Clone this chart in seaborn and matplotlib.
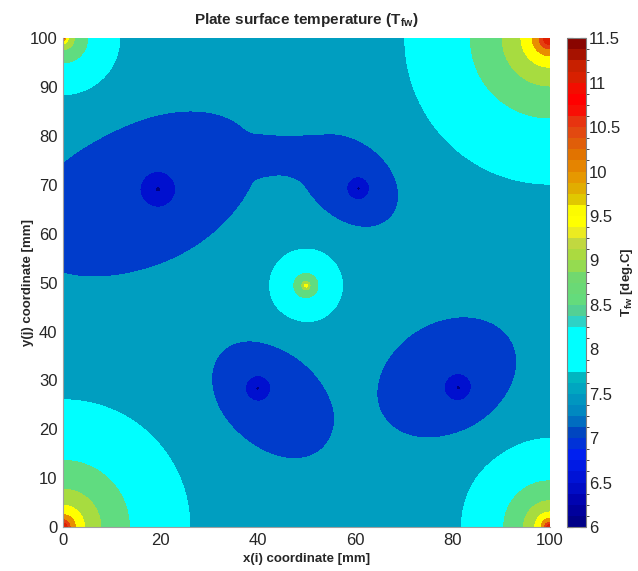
import numpy as np
import matplotlib
matplotlib.use("Agg")
import matplotlib.pyplot as plt
from matplotlib.colors import LinearSegmentedColormap, ListedColormap, BoundaryNorm
from matplotlib.cm import ScalarMappable
import seaborn as sns

t_base = 7.75

# hot spots (corners + centre): position [mm], strength, radius [mm]
hot_x = [0, 100, 0, 100, 49.9]
hot_y = [0, 0, 100, 100, 49.4]
hot_q = [0.90, 0.90, 0.65, 1.00, 0.47]
hot_r = [31.0, 21.4, 15.9, 34.0, 11.7]

# cold spot cores
spot_x = [19.5, 60.7, 40.0, 81.2]
spot_y = [69.1, 69.3, 28.4, 28.5]
spot_q = [-0.27, -0.27, -0.27, -0.27]
spot_r = [10.0, 7.5, 8.0, 8.5]

# cooled zones around the cold spots (ellipses of the 7.5 deg.C contour)
zone_x = [16.0, 59.0, 43.0, 79.0, 45.0]
zone_y = [68.0, 71.0, 26.0, 30.5, 76.0]
zone_a = [26.5, 12.0, 15.0, 16.0, 7.0]
zone_b = [15.0, 8.5, 10.5, 12.0, 4.5]
zone_ang = [25.0, -40.0, -42.0, 30.0, 0.0]
zone_dt = [0.5, 0.5, 0.5, 0.5, 0.2]

levels = np.arange(6.0, 11.51, 0.5)
x_ticks = list(range(0, 101, 20))
y_ticks = list(range(0, 101, 10))

# colour scale (value, colour)
cb_vals = [6.0, 6.25, 6.5, 6.8, 7.05, 7.25, 7.5, 7.7, 7.8, 8.2, 8.35, 8.5, 8.8,
           9.0, 9.15, 9.25, 9.4, 9.55, 9.65, 9.8, 10.0, 10.2, 10.4, 10.6,
           10.75, 10.9, 11.0, 11.2, 11.35, 11.5]
cb_cols = ["#000080", "#0000a8", "#0010d0", "#0020f0", "#0044c0", "#0080c0",
           "#00a0c0", "#00b8c0", "#00ffff", "#00ffff", "#40c0b0", "#60dc80",
           "#70d870", "#a8dc40", "#b0d840", "#d8d840", "#ffff00", "#ffff00",
           "#e0d000", "#e0b000", "#e89000", "#e07000", "#e05010", "#e83010",
           "#ff0000", "#ff0000", "#e02000", "#c82000", "#a01000", "#800000"]

vmin, vmax = cb_vals[0], cb_vals[-1]
scale = LinearSegmentedColormap.from_list(
    "plate", [((v - vmin) / (vmax - vmin), c) for v, c in zip(cb_vals, cb_cols)])

# temperature field
xg = np.linspace(0, 100, 401)
X, Y = np.meshgrid(xg, xg)
T = np.full_like(X, t_base)
for sx, sy, q, R in zip(hot_x + spot_x, hot_y + spot_y, hot_q + spot_q, hot_r + spot_r):
    r = np.hypot(X - sx, Y - sy) + 1e-3
    T += q * np.log1p((R / r) ** 4) / 4
for cx, cy, a, b, ang, dt in zip(zone_x, zone_y, zone_a, zone_b, zone_ang, zone_dt):
    c, s = np.cos(np.radians(ang)), np.sin(np.radians(ang))
    u = ((X - cx) * c + (Y - cy) * s) / a
    v = (-(X - cx) * s + (Y - cy) * c) / b
    T -= dt * np.exp(-np.log(2) * (u ** 2 + v ** 2) ** 2)
T = np.clip(T, 6.001, 11.499)

sns.set_style("white")
plt.rcParams["font.family"] = ["Liberation Sans", "DejaVu Sans"]
plt.rcParams["mathtext.fontset"] = "custom"
plt.rcParams["mathtext.rm"] = "Liberation Sans"
plt.rcParams["mathtext.bf"] = "Liberation Sans:bold"

fig = plt.figure(figsize=(6.38, 5.71), dpi=100)
ax = fig.add_axes([0.0987, 0.077, 0.763, 0.856])
band_cols = [scale((lv - vmin) / (vmax - vmin)) for lv in levels[:-1]]
ax.contourf(X, Y, T, levels=levels, colors=band_cols)
ax.set_xlim(0, 100)
ax.set_ylim(0, 100)
ax.set_xticks(x_ticks)
ax.set_yticks(y_ticks)
ax.tick_params(labelsize=12, direction="out", length=3, color="#909090", pad=1)
for s in ["left", "bottom"]:
    ax.spines[s].set_color("#a0a0a0")
for s in ["top", "right"]:
    ax.spines[s].set_visible(False)
ax.set_xlabel("x(i) coordinate [mm]", fontsize=9.5, weight="bold", labelpad=4)
ax.set_ylabel("y(j) coordinate [mm]", fontsize=9.5, weight="bold", labelpad=-3)
ax.set_title(r"Plate surface temperature (T$_{\mathbf{fw}}$)", fontsize=11,
             weight="bold", pad=10)

cax = fig.add_axes([0.889, 0.077, 0.030, 0.856])
fine = np.arange(6.0, 11.5001, 0.125)
fine_cols = [scale((v + 0.0625 - vmin) / (vmax - vmin)) for v in fine[:-1]]
sm = ScalarMappable(norm=BoundaryNorm(fine, len(fine) - 1),
                    cmap=ListedColormap(fine_cols))
cb = fig.colorbar(sm, cax=cax, ticks=levels)
cb.set_ticklabels([f"{v:g}" for v in levels])
cb.ax.tick_params(labelsize=12, direction="in", length=4, left=True, right=True,
                  color="#303030", pad=2)
cb.outline.set_edgecolor("#808080")
cb.set_label(r"T$_{\mathbf{fw}}$ [deg.C]", fontsize=9.5, weight="bold")
cb.ax.yaxis.set_label_coords(2.7, 0.5)

fig.savefig("out.png", dpi=100)
